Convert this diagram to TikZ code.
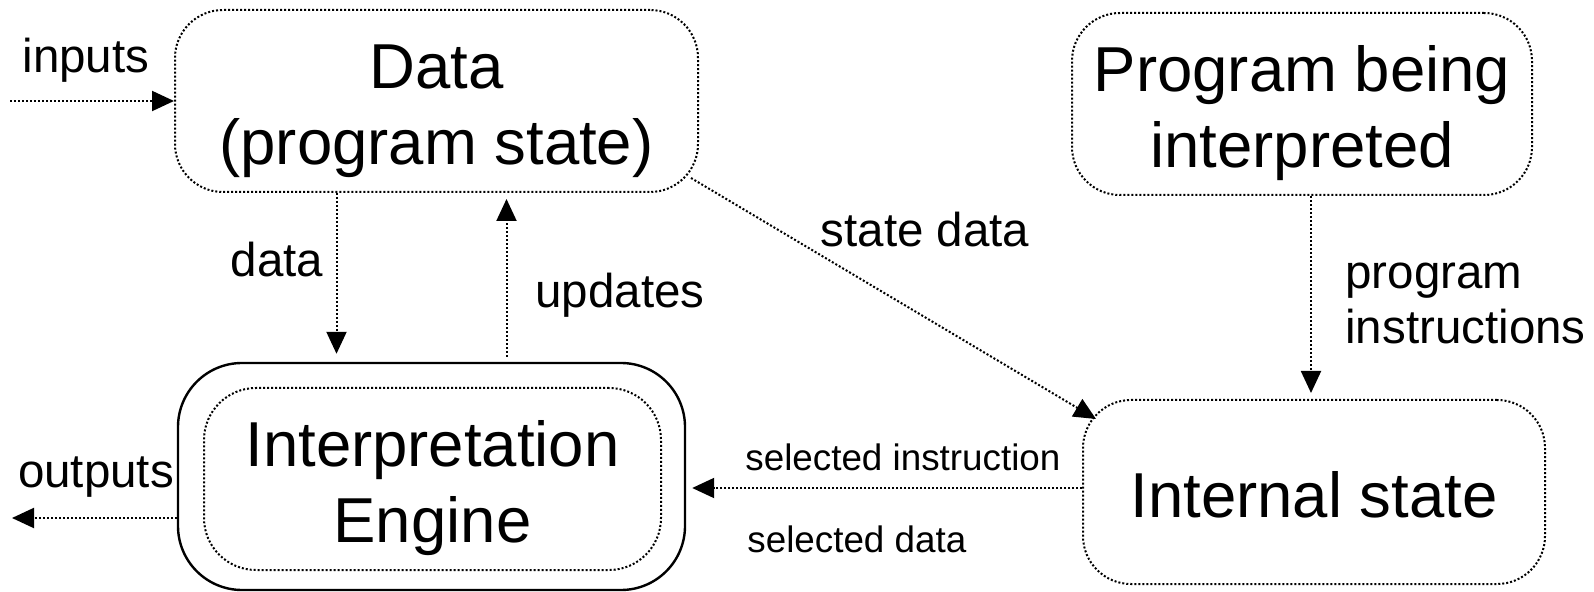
\documentclass[tikz,border=0pt]{standalone}
\usepackage{fontspec}
\setmainfont{Liberation Sans}
\usetikzlibrary{arrows.meta,positioning}

\newcommand{\boxtop}{\rule{0pt}{1em}}
\newcommand{\boxbot}{\rule[-0.212em]{0pt}{0pt}}

\begin{document}
\begin{tikzpicture}[
    x=0.5pt, y=-0.5pt,
    dotline/.style={line width=1pt, dash pattern=on 1pt off 1pt},
    box/.style={rectangle, draw, dotline, rounded corners=24pt, align=center, inner sep=0pt, font=\fontsize{31.75}{38}\selectfont},
    shell/.style={rectangle, draw, line width=1.2pt, rounded corners=32pt, inner sep=0pt},
    flow/.style={dotline, -{Triangle[length=11pt,width=10pt]}},
    lbl/.style={font=\fontsize{23.75}{27.5}\selectfont, inner sep=0pt},
    smalllbl/.style={font=\fontsize{18.4}{22}\selectfont, inner sep=0pt}
]
\useasboundingbox (0,0) rectangle (1594,592);

% Boxes
\node[box, minimum width=261.5pt, minimum height=91pt] (data) at (436.5,101) {\boxtop Data\\(program state)\boxbot};
\node[box, minimum width=230pt, minimum height=91pt] (program) at (1302,104) {\boxtop Program being\\interpreted\boxbot};
\node[shell, minimum width=253.5pt, minimum height=113.5pt] (engineout) at (431.5,476.5) {};
\node[box, rounded corners=26pt, minimum width=228.5pt, minimum height=91pt] (engine) at (432.5,479) {\boxtop Interpretation\\Engine\boxbot};
\node[box, minimum width=231pt, minimum height=92pt] (internal) at (1314,492) {\boxtop Internal state\boxbot};

% Free ends
\coordinate (inpt) at (10,101);
\coordinate (outpt) at (12,518);

% Labels
\node[lbl] (inputslbl) at (86,60) {inputs};
\node[lbl] (outputslbl) at (96,477) {outputs};
\node[lbl] (datalbl) at (277,260) {data};
\node[lbl] (updateslbl) at (620,295) {updates};
\node[lbl] (statelbl) at (925,230) {state data};
\node[lbl, align=left, anchor=west] (proglbl) at (1345,303) {program\\instructions};
\node[smalllbl, anchor=west] (selinstr) at (745,457) {selected instruction};
\node[smalllbl, anchor=west] (seldata) at (747,539) {selected data};

% Arrows
\draw[flow] (inpt) -- (data.west);
\draw[flow, shorten >=4pt] ([xshift=-50pt]data.south) -- ([xshift=-50pt]data.south |- engineout.north);
\draw[flow, shorten <=2.5pt, shorten >=3pt] ([xshift=35pt]data.south |- engineout.north) -- ([xshift=35pt]data.south);
\draw[flow] ([xshift=-4pt,yshift=7.5pt]data.south east) -- ([xshift=7pt,yshift=-10pt]internal.north west);
\draw[flow, shorten >=3pt] ([xshift=4.5pt]program.south) -- ([xshift=4.5pt]program.south |- internal.north);
\draw[flow, shorten >=3pt] ([yshift=2pt]internal.west) -- ([yshift=2pt]internal.west -| engineout.east);
\draw[flow] ([yshift=-20.75pt]engineout.west) -- (outpt);

\end{tikzpicture}
\end{document}
